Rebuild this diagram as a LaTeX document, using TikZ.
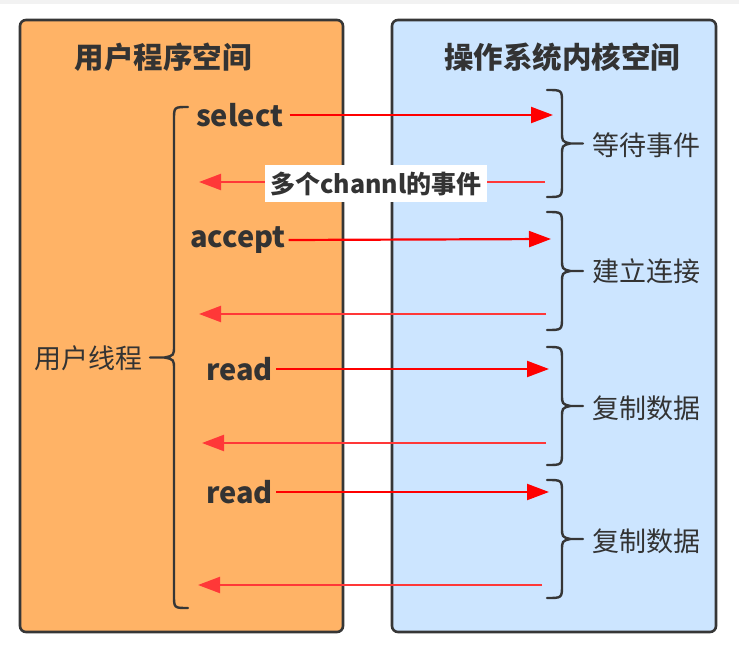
\documentclass[tikz,border=0pt]{standalone}
\usepackage{fontspec}
\setmainfont{Noto Sans CJK SC}
\usetikzlibrary{arrows.meta}
\definecolor{userfill}{HTML}{FFB366}
\definecolor{kernfill}{HTML}{CCE5FF}
\definecolor{frame}{HTML}{363636}
\definecolor{ink}{HTML}{333333}
\definecolor{reqred}{HTML}{FF0000}
\definecolor{repred}{HTML}{FF3838}
\definecolor{strip}{HTML}{F2F2F2}
% curly brace: x of the end curls, x of the stem, x of the tip, top y, bottom y
\newcommand\curlbrace[5]{%
  \draw[curl] (#1,{#4}) .. controls (#2,{#4}) .. (#2,{#4+13})
    -- (#2,{(#4+#5)/2-12}) .. controls (#2,{(#4+#5)/2-2}) .. ({#2+0.4*(#3-#2)},{(#4+#5)/2})
    -- (#3,{(#4+#5)/2})
    ({#2+0.4*(#3-#2)},{(#4+#5)/2}) .. controls (#2,{(#4+#5)/2+2}) .. (#2,{(#4+#5)/2+12})
    -- (#2,{#5-13}) .. controls (#2,{#5}) .. (#1,{#5});}
\begin{document}
\begin{tikzpicture}[x=1pt,y=-1pt,
  space/.style={draw=frame, line width=2.6pt, rounded corners=6pt},
  title/.style={font=\fontsize{29.5}{31}\selectfont\bfseries, text=ink, inner sep=0},
  call/.style={font=\fontsize{29}{31}\selectfont\bfseries, text=ink, anchor=west, inner sep=0},
  note/.style={font=\fontsize{27}{29}\selectfont, text=ink, inner sep=0},
  curl/.style={draw=frame, line width=2.4pt, line cap=round},
  req/.style={draw=reqred, line width=2.2pt, -{Triangle[length=22pt,width=16pt]}},
  rep/.style={draw=repred, line width=2.2pt, -{Triangle[length=22pt,width=16pt]}},
  tag/.style={font=\fontsize{25}{27}\selectfont\bfseries, text=ink, fill=white,
    minimum width=222pt, minimum height=37pt, inner sep=0}]
\useasboundingbox (0,0) rectangle (739,650);
\fill[white] (0,0) rectangle (739,650);
\fill[strip] (0,0) rectangle (739,4);

% the two address spaces
\draw[space, fill=userfill] (20,20) rectangle (343,632);
\draw[space, fill=kernfill] (392,20) rectangle (716,632);
\node[title] (utitle) at (163,57) {用户程序空间};
\node[title] (ktitle) at (562,57) {操作系统内核空间};

% system calls issued by the user thread
\node[call] (sel) at (196,115) {select};
\node[call] (acc) at (190,240) {accept};
\node[call] (rd1) at (206,369) {read};
\node[call] (rd2) at (206,492) {read};

% arrow ends inside the kernel
\coordinate (k1) at (553,115);
\coordinate (k2) at (551,239);
\coordinate (k3) at (549,369);
\coordinate (k4) at (549,492);

% replies back to user space
\coordinate (r1s) at (545,182); \coordinate (r1e) at (199,182);
\coordinate (r2s) at (546,314); \coordinate (r2e) at (199,314);
\coordinate (r3s) at (546,443); \coordinate (r3e) at (202,443);
\coordinate (r4s) at (542,585); \coordinate (r4e) at (198,585);

\draw[req] ([xshift=6pt]sel.east) -- (k1);
\draw[req] ([xshift=3pt]acc.east) -- (k2);
\draw[req] ([xshift=3pt]rd1.east) -- (k3);
\draw[req] ([xshift=3pt]rd2.east) -- (k4);

\draw[rep] (r1s) -- (r1e);
\draw[rep] (r2s) -- (r2e);
\draw[rep] (r3s) -- (r3e);
\draw[rep] (r4s) -- (r4e);

\node[tag] (evt) at (376,183.5) {多个channl的事件};

% the user thread brace
\curlbrace{188}{174}{150}{107}{608}
\node[note, anchor=east] (thr) at (143,358) {用户线程};

% kernel-side braces
\curlbrace{547}{562}{583}{90}{197}
\curlbrace{547}{562}{583}{212}{330}
\curlbrace{547}{562}{583}{347}{465}
\curlbrace{547}{562}{583}{480}{598}
\node[note, anchor=west] (w1) at (592,145) {等待事件};
\node[note, anchor=west] (w2) at (592,271) {建立连接};
\node[note, anchor=west] (w3) at (592,408) {复制数据};
\node[note, anchor=west] (w4) at (592,541) {复制数据};
\end{tikzpicture}
\end{document}
